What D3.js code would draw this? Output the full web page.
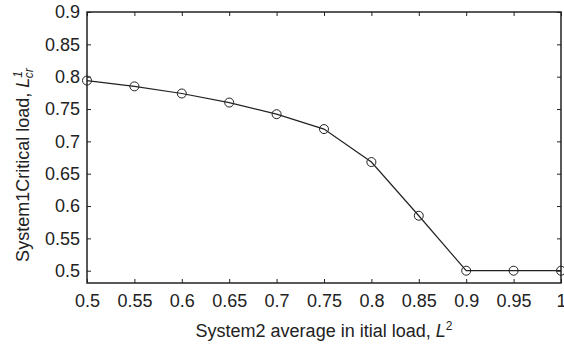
<!DOCTYPE html>
<html><head><meta charset="utf-8">
<script src="https://d3js.org/d3.v7.min.js"></script>
<style>body{margin:0;background:#fff}svg{display:block}text{font-family:"Liberation Sans",Arial,sans-serif;fill:#222}</style>
</head><body>
<svg id="c" width="564" height="346"></svg>
<script>
const xValues = [0.5,0.55,0.6,0.65,0.7,0.75,0.8,0.85,0.9,0.95,1.0];
const yValues = [0.794,0.785,0.774,0.760,0.742,0.719,0.668,0.585,0.5,0.5,0.5];
const xTicks = [0.5,0.55,0.6,0.65,0.7,0.75,0.8,0.85,0.9,0.95,1];
const yTicks = [0.5,0.55,0.6,0.65,0.7,0.75,0.8,0.85,0.9];

const svg = d3.select("#c");
const L=87, R=561, T=12, B=283;
const x = d3.scaleLinear().domain([0.5,1]).range([L,R]);
const y = d3.scaleLinear().domain([0.481,0.9]).range([B,T]);
const fmt = d => d3.format("")(+d.toFixed(2));
const col="#222";
const FS=18;

// frame
svg.append("rect").attr("x",L).attr("y",T).attr("width",R-L).attr("height",B-T)
  .attr("fill","none").attr("stroke",col).attr("stroke-width",1.5);

// axes
const xb = svg.append("g").attr("transform",`translate(0,${B})`)
  .call(d3.axisBottom(x).tickValues(xTicks).tickSize(-4).tickPadding(13).tickFormat(fmt));
const xt = svg.append("g").attr("transform",`translate(0,${T})`)
  .call(d3.axisTop(x).tickValues(xTicks).tickSize(-4).tickFormat(""));
const yl = svg.append("g").attr("transform",`translate(${L},0)`)
  .call(d3.axisLeft(y).tickValues(yTicks).tickSize(-4).tickPadding(7).tickFormat(fmt));
const yr = svg.append("g").attr("transform",`translate(${R},0)`)
  .call(d3.axisRight(y).tickValues(yTicks).tickSize(-4).tickFormat(""));
[xb,xt,yl,yr].forEach(g=>{
  g.select(".domain").remove();
  g.selectAll(".tick line").attr("stroke",col);
  g.selectAll(".tick text").attr("font-size",FS).attr("fill",col)
   .style("font-family","Liberation Sans, Arial, sans-serif");
});
xb.selectAll(".tick text").attr("dy","0.6em");

// line
svg.append("path").datum(xValues.map((v,i)=>[v,yValues[i]]))
  .attr("d",d3.line().x(d=>x(d[0])).y(d=>y(d[1])))
  .attr("fill","none").attr("stroke",col).attr("stroke-width",1.2);
svg.selectAll("circle.m").data(xValues.map((v,i)=>[v,yValues[i]])).join("circle")
  .attr("class","m").attr("cx",d=>x(d[0])).attr("cy",d=>y(d[1])).attr("r",4.5)
  .attr("fill","none").attr("stroke",col).attr("stroke-width",1);

// x label
const xl = svg.append("text").attr("x",(L+R)/2).attr("y",337).attr("text-anchor","middle").attr("font-size",FS);
xl.append("tspan").text("System2 average in itial load, ");
xl.append("tspan").attr("font-style","italic").text("L");
xl.append("tspan").attr("font-size",12).attr("dy",-7).text("2");

// y label
const ylab = svg.append("text").attr("transform",`translate(28.5,165) rotate(-90)`)
  .attr("text-anchor","middle").attr("font-size",FS);
ylab.append("tspan").text("System1Critical load, ");
ylab.append("tspan").attr("font-style","italic").text("L");
ylab.append("tspan").attr("font-size",12).attr("font-style","italic").attr("dy",-7).text("1");
ylab.append("tspan").attr("font-size",12).attr("font-style","italic").attr("dx",-7).attr("dy",11).text("cr");
</script>
</body></html>
